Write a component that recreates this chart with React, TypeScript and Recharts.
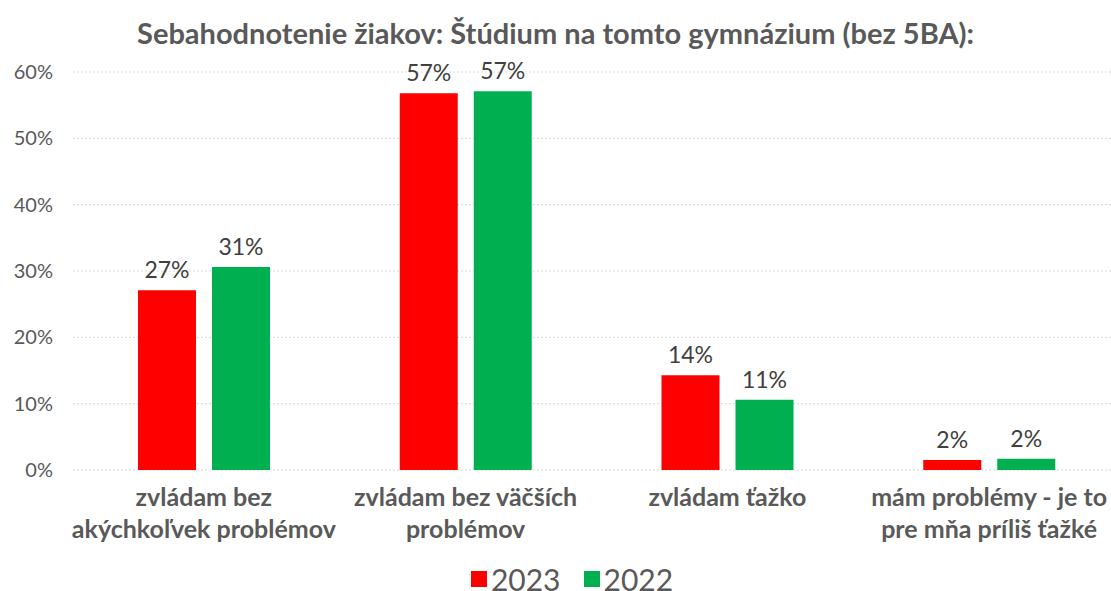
import React from "react";
import { Bar, BarChart, CartesianGrid, LabelList, Legend, XAxis, YAxis } from "recharts";

const title = "Sebahodnotenie žiakov: Štúdium na tomto gymnázium (bez 5BA):";

const categories = [
  "zvládam bez\nakýchkoľvek problémov",
  "zvládam bez väčších\nproblémov",
  "zvládam ťažko",
  "mám problémy - je to\npre mňa príliš ťažké"
];

const values2023 = [27.1, 56.8, 14.3, 1.5];
const values2022 = [30.6, 57.1, 10.6, 1.7];

const yTicks = [0, 10, 20, 30, 40, 50, 60];

const series = [
  { key: "y2023", name: "2023", color: "#ff0000" },
  { key: "y2022", name: "2022", color: "#00b050" }
];

const data = categories.map((name, i) => ({
  name,
  y2023: values2023[i],
  y2022: values2022[i]
}));

const font = "Lato, 'Open Sans', sans-serif";
const textColor = "#595959";

function CategoryTick({ x, y, payload }: any) {
  const lines = String(payload.value).split("\n");
  return (
    <text x={x} y={y} textAnchor="middle" fill={textColor} fontFamily={font} fontWeight={700} fontSize={25}>
      {lines.map((line, i) => (
        <tspan key={i} x={x} dy={i === 0 ? 28 : 32}>
          {line}
        </tspan>
      ))}
    </text>
  );
}

function LegendContent() {
  return (
    <div
      style={{
        display: "flex",
        justifyContent: "center",
        alignItems: "center",
        gap: 23,
        lineHeight: "22px",
        paddingLeft: 33
      }}
    >
      {series.map((s) => (
        <div key={s.key} style={{ display: "flex", alignItems: "center", gap: 4 }}>
          <span style={{ width: 16, height: 16, background: s.color, display: "inline-block" }} />
          <span style={{ color: textColor, fontSize: 30, fontFamily: font }}>{s.name}</span>
        </div>
      ))}
    </div>
  );
}

export default function App() {
  return (
    <div style={{ position: "absolute", left: 0, top: 0, width: 1111, height: 591, background: "#fff", fontFamily: font }}>
      <div
        style={{
          position: "absolute",
          top: 13,
          left: 0,
          width: 1111,
          textAlign: "center",
          fontSize: 29,
          fontWeight: 700,
          color: textColor,
          lineHeight: "40px"
        }}
      >
        {title}
      </div>
      <BarChart
        width={1111}
        height={591}
        data={data}
        margin={{ top: 72, right: -9, bottom: 0, left: 0 }}
        barGap={16}
        barSize={58}
      >
        <CartesianGrid vertical={false} stroke="#d9d9d9" strokeDasharray="2 2" />
        <XAxis dataKey="name" axisLine={false} tickLine={false} interval={0} height={121} tick={<CategoryTick />} />
        <YAxis
          width={73}
          domain={[0, 60]}
          ticks={yTicks}
          axisLine={false}
          tickLine={false}
          tickMargin={14}
          tickFormatter={(v: number) => `${v}%`}
          tick={{ fill: textColor, fontSize: 20, fontFamily: font }}
        />
        <Legend
          verticalAlign="middle"
          content={<LegendContent />}
          wrapperStyle={{ top: 568, left: 0, width: 1111 }}
        />
        {series.map((s) => (
          <Bar key={s.key} dataKey={s.key} name={s.name} fill={s.color} isAnimationActive={false}>
            <LabelList
              dataKey={s.key}
              position="top"
              offset={12}
              formatter={(v: number) => `${Math.round(v)}%`}
              style={{ fill: "#404040", fontSize: 23, fontFamily: font }}
            />
          </Bar>
        ))}
      </BarChart>
    </div>
  );
}
